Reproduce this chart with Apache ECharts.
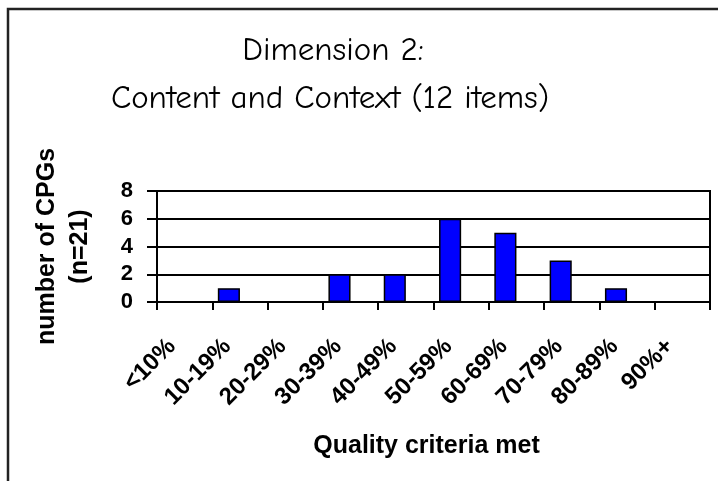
<!DOCTYPE html>
<html>
<head>
<meta charset="utf-8">
<script src="https://cdn.jsdelivr.net/npm/echarts@6/dist/echarts.min.js"></script>
<style>
html,body{margin:0;padding:0;background:#fff;}
#chart{width:718px;height:481px;}
</style>
</head>
<body>
<div id="chart"></div>
<script>
var categories = ['<10%', '10-19%', '20-29%', '30-39%', '40-49%', '50-59%', '60-69%', '70-79%', '80-89%', '90%+'];
var counts = [0, 1, 0, 2, 2, 6, 5, 3, 1, 0];
var yTicks = [0, 2, 4, 6, 8];
var titleLine1 = 'Dimension 2:';
var titleLine2 = 'Content and Context (12 items)';
var xName = 'Quality criteria met';
var yName = 'number of CPGs\n(n=21)';

var chart = echarts.init(document.getElementById('chart'), null, {renderer: 'canvas'});
var font = 'Liberation Sans, Arial, sans-serif';
var titleFont = '"Comic Sans MS", "Comic Neue", "Noto Sans", sans-serif';

chart.setOption({
  animation: false,
  backgroundColor: '#ffffff',
  graphic: [
    {type: 'rect', shape: {x: 8, y: 9, width: 740, height: 520}, style: {fill: 'none', stroke: '#222', lineWidth: 2.5}, silent: true, z: 100},
    {type: 'text', x: 333, y: 51, style: {text: titleLine1, font: '33px ' + titleFont, fill: '#000', textAlign: 'center', textVerticalAlign: 'middle'}},
    {type: 'text', x: 330, y: 99, style: {text: titleLine2, font: '33px ' + titleFont, fill: '#000', textAlign: 'center', textVerticalAlign: 'middle'}}
  ],
  grid: {left: 157, right: 8, top: 191, bottom: 179, show: true, borderColor: '#000', borderWidth: 2, containLabel: false},
  xAxis: {
    type: 'category',
    data: categories,
    boundaryGap: true,
    name: xName,
    nameLocation: 'middle',
    nameGap: 132,
    nameTextStyle: {fontFamily: font, fontWeight: 'bold', fontSize: 25, color: '#000', padding: [0, 14, 0, 0]},
    axisLine: {show: true, lineStyle: {color: '#000', width: 2}},
    axisTick: {show: true, inside: false, length: 8, alignWithLabel: false, lineStyle: {color: '#000', width: 2}},
    axisLabel: {rotate: 45, margin: 28, interval: 0, fontFamily: font, fontWeight: 'bold', fontSize: 24, color: '#000', padding: [0, 18, 0, 0]},
    splitLine: {show: false}
  },
  yAxis: {
    type: 'value',
    min: yTicks[0],
    max: yTicks[yTicks.length - 1],
    interval: 2,
    name: yName,
    nameLocation: 'middle',
    nameRotate: 90,
    nameGap: 60,
    nameTextStyle: {fontFamily: font, fontWeight: 'bold', fontSize: 25, color: '#000', lineHeight: 33},
    axisLine: {show: true, lineStyle: {color: '#000', width: 2}},
    axisTick: {show: true, inside: false, length: 10, lineStyle: {color: '#000', width: 2}},
    axisLabel: {margin: 24, fontFamily: font, fontWeight: 'bold', fontSize: 22, color: '#000'},
    splitLine: {show: true, lineStyle: {color: '#000', width: 2}}
  },
  series: [
    {type: 'bar', data: counts, barGap: '0%', barCategoryGap: '20%',
     itemStyle: {color: '#0000ff', borderColor: '#000', borderWidth: 1.5}},
    {type: 'bar', data: counts.map(function(){ return null; }), barGap: '0%', barCategoryGap: '20%'}
  ]
});
</script>
</body>
</html>
